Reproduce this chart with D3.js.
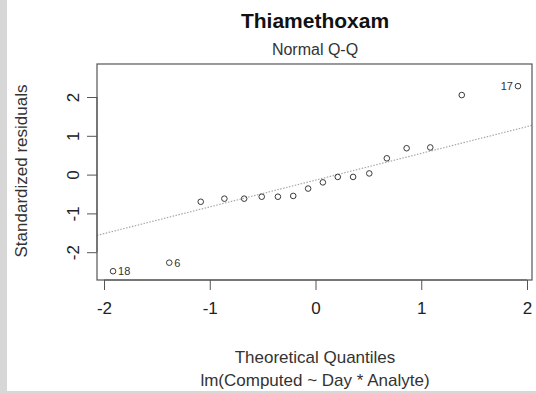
<!DOCTYPE html>
<html>
<head>
<meta charset="utf-8">
<script src="https://cdn.jsdelivr.net/npm/d3@7"></script>
<style>
  html, body { margin: 0; padding: 0; background: #fff; }
  svg { display: block; font-family: "Liberation Sans", Arial, sans-serif; }
</style>
</head>
<body>
<svg id="chart" width="536" height="394"></svg>
<script>
// Standardized residuals of the fitted model, sorted ascending (n = 18)
const residuals = [-2.49, -2.27, -0.70, -0.62, -0.62, -0.57, -0.57, -0.55, -0.36,
                   -0.20, -0.06, -0.06, 0.03, 0.42, 0.68, 0.70, 2.05, 2.28];
// Observation ids attached to the most extreme residuals
const labelledIndex = [0, 1, 17];
const labelledIds = ["18", "6", "17"];
const xTicks = [-2, -1, 0, 1, 2];
const yTicks = [-2, -1, 0, 1, 2];

const W = 536, H = 394;
const box = { left: 97, right: 532, top: 64, bottom: 280 };

const svg = d3.select("#chart");

// Frame strips of the exported graphic
svg.append("rect").attr("x", 0).attr("y", 0).attr("width", 7).attr("height", H).attr("fill", "#d7d7d7");
svg.append("rect").attr("x", 0).attr("y", 391).attr("width", W).attr("height", 3).attr("fill", "#d7d7d7");

// Theoretical normal quantiles, ppoints(n) style
const n = residuals.length;
const a = n <= 10 ? 3 / 8 : 0.5;
const normInv = p => {
  // Acklam's rational approximation to the inverse normal CDF
  const c1 = [-3.969683028665376e+01, 2.209460984245205e+02, -2.759285104469687e+02, 1.383577518672690e+02, -3.066479806614716e+01, 2.506628277459239e+00];
  const c2 = [-5.447609879822406e+01, 1.615858368580409e+02, -1.556989798598866e+02, 6.680131188771972e+01, -1.328068155288572e+01];
  const c3 = [-7.784894002430293e-03, -3.223964580411365e-01, -2.400758277161838e+00, -2.549732539343734e+00, 4.374664141464968e+00, 2.938163982698783e+00];
  const c4 = [7.784695709041462e-03, 3.224671290700398e-01, 2.445134137142996e+00, 3.754408661907416e+00];
  const pl = 0.02425, ph = 1 - pl;
  let q, r;
  if (p < pl) {
    q = Math.sqrt(-2 * Math.log(p));
    return (((((c3[0]*q+c3[1])*q+c3[2])*q+c3[3])*q+c3[4])*q+c3[5]) / ((((c4[0]*q+c4[1])*q+c4[2])*q+c4[3])*q+1);
  } else if (p <= ph) {
    q = p - 0.5; r = q * q;
    return (((((c1[0]*r+c1[1])*r+c1[2])*r+c1[3])*r+c1[4])*r+c1[5])*q / (((((c2[0]*r+c2[1])*r+c2[2])*r+c2[3])*r+c2[4])*r+1);
  } else {
    q = Math.sqrt(-2 * Math.log(1 - p));
    return -(((((c3[0]*q+c3[1])*q+c3[2])*q+c3[3])*q+c3[4])*q+c3[5]) / ((((c4[0]*q+c4[1])*q+c4[2])*q+c4[3])*q+1);
  }
};
const theo = residuals.map((_, i) => normInv((i + 1 - a) / (n + 1 - 2 * a)));
const pts = residuals.map((v, i) => ({ q: theo[i], v }));

const x = d3.scaleLinear().domain([-2, 2]).range([104, 527]);
const y = d3.scaleLinear().domain([-2, 2]).range([252.2, 97]);

// Reference line through the first and third quartiles
const q1 = d3.quantile(residuals, 0.25), q3 = d3.quantile(residuals, 0.75);
const z = normInv(0.75);
const slope = (q3 - q1) / (2 * z);
const intercept = q1 + slope * z;

svg.append("clipPath").attr("id", "plotClip")
  .append("rect").attr("x", box.left).attr("y", box.top)
  .attr("width", box.right - box.left).attr("height", box.bottom - box.top);

const xs = [x.invert(box.left), x.invert(box.right)];
svg.append("line")
  .attr("clip-path", "url(#plotClip)")
  .attr("x1", x(xs[0])).attr("y1", y(intercept + slope * xs[0]))
  .attr("x2", x(xs[1])).attr("y2", y(intercept + slope * xs[1]))
  .attr("stroke", "#a8a8a8").attr("stroke-width", 1.2)
  .attr("stroke-dasharray", "1.5,1.5");

// Points
svg.append("g").selectAll("circle").data(pts).join("circle")
  .attr("cx", d => x(d.q)).attr("cy", d => y(d.v)).attr("r", 2.8)
  .attr("fill", "none").attr("stroke", "#3a3a3a").attr("stroke-width", 1);

// Labels for extreme points
labelledIndex.forEach((idx, k) => {
  const d = pts[idx];
  const right = d.q < 0;
  svg.append("text")
    .attr("x", x(d.q) + (right ? 5 : -5)).attr("y", y(d.v) + 4)
    .attr("text-anchor", right ? "start" : "end")
    .attr("font-size", 11).attr("fill", "#333")
    .text(labelledIds[k]);
});

// Plot box
svg.append("rect").attr("x", box.left).attr("y", box.top)
  .attr("width", box.right - box.left).attr("height", box.bottom - box.top)
  .attr("fill", "none").attr("stroke", "#555").attr("stroke-width", 1.2);

const plainFmt = d => String(d);

// X axis
const xAxis = svg.append("g").attr("transform", `translate(0,${box.bottom})`)
  .call(d3.axisBottom(x).tickValues(xTicks).tickSize(10).tickPadding(12).tickFormat(plainFmt));
xAxis.select(".domain").attr("d", `M${x(-2)},0H${x(2)}`).attr("stroke", "#555");
xAxis.selectAll(".tick line").attr("stroke", "#555");
xAxis.selectAll("text").attr("font-size", 17).attr("fill", "#222").attr("font-family", "Liberation Sans, Arial, sans-serif");

// Y axis
const yAxis = svg.append("g").attr("transform", `translate(${box.left},0)`)
  .call(d3.axisLeft(y).tickValues(yTicks).tickSize(10).tickFormat(plainFmt));
yAxis.select(".domain").attr("d", `M0,${y(-2)}V${y(2)}`).attr("stroke", "#555");
yAxis.selectAll(".tick line").attr("stroke", "#555");
yAxis.selectAll("text")
  .attr("font-size", 17).attr("fill", "#222").attr("font-family", "Liberation Sans, Arial, sans-serif")
  .attr("x", null).attr("dy", null)
  .attr("text-anchor", "middle")
  .attr("transform", "translate(-24,0) rotate(-90)")
  .attr("y", 0).attr("dy", "0.35em");

// Titles
svg.append("text").attr("x", 315).attr("y", 28).attr("text-anchor", "middle")
  .attr("font-size", 21).attr("font-weight", "bold").attr("fill", "#111").text("Thiamethoxam");
svg.append("text").attr("x", 315).attr("y", 55).attr("text-anchor", "middle")
  .attr("font-size", 16).attr("fill", "#333").text("Normal Q-Q");
svg.append("text").attr("x", 315).attr("y", 363).attr("text-anchor", "middle")
  .attr("font-size", 17).attr("fill", "#333").text("Theoretical Quantiles");
svg.append("text").attr("x", 315).attr("y", 386).attr("text-anchor", "middle")
  .attr("font-size", 17).attr("fill", "#333").text("lm(Computed ~ Day * Analyte)");
svg.append("text").attr("transform", "translate(27,171) rotate(-90)").attr("text-anchor", "middle")
  .attr("font-size", 17).attr("fill", "#333").text("Standardized residuals");
</script>
</body>
</html>
